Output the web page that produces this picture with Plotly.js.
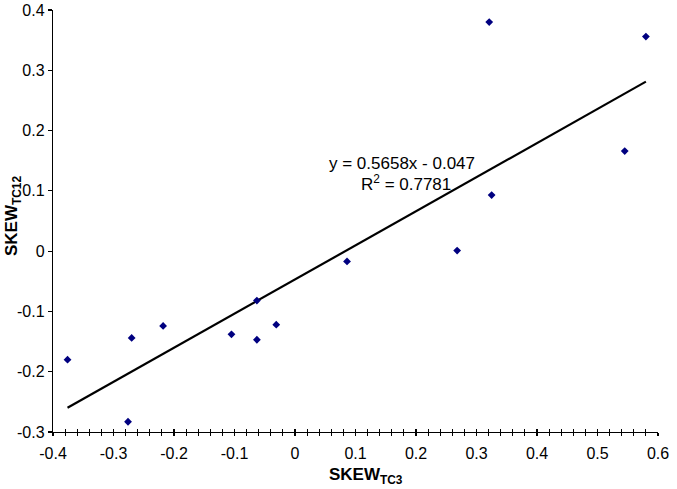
<!DOCTYPE html>
<html>
<head>
<meta charset="utf-8">
<script src="https://cdn.plot.ly/plotly-3.0.1.min.js"></script>
<style>html,body{margin:0;padding:0;background:#fff;}#chart{width:677px;height:489px;}</style>
</head>
<body>
<div id="chart"></div>
<script>
// Data
var skewTC3  = [-0.376, -0.276, -0.270, -0.218, -0.105, -0.063, -0.063, -0.031, 0.086, 0.268, 0.321, 0.580, 0.545, 0.325];
var skewTC12 = [-0.180, -0.283, -0.144, -0.124, -0.138, -0.082, -0.147, -0.122, -0.017, 0.001, 0.380, 0.356, 0.166, 0.093];
var trendSlope = 0.5658;
var trendIntercept = -0.047;
var rSquared = 0.7781;
var xTickVals = [-0.4, -0.3, -0.2, -0.1, 0, 0.1, 0.2, 0.3, 0.4, 0.5, 0.6];
var xTickText = ['-0.4', '-0.3', '-0.2', '-0.1', '0', '0.1', '0.2', '0.3', '0.4', '0.5', '0.6'];
var yTickVals = [-0.3, -0.2, -0.1, 0, 0.1, 0.2, 0.3, 0.4];
var yTickText = ['-0.3', '-0.2', '-0.1', '0', '0.1', '0.2', '0.3', '0.4'];

var xMin = Math.min.apply(null, skewTC3);
var xMax = Math.max.apply(null, skewTC3);
var trendX = [xMin, xMax];
var trendY = trendX.map(function (v) { return trendSlope * v + trendIntercept; });

var FONT = 'Liberation Sans, Arial, sans-serif';

var traces = [
  {
    x: trendX, y: trendY, type: 'scatter', mode: 'lines',
    line: {color: '#000000', width: 2.2},
    hoverinfo: 'skip', showlegend: false
  },
  {
    x: skewTC3, y: skewTC12, type: 'scatter', mode: 'markers',
    marker: {symbol: 'diamond', size: 6, color: '#000080', line: {width: 0}},
    showlegend: false
  },
  {
    x: [0], y: [0], xaxis: 'x2', type: 'scatter', mode: 'markers',
    marker: {opacity: 0}, hoverinfo: 'skip', showlegend: false
  }
];

var layout = {
  width: 677, height: 489,
  margin: {l: 53, r: 19, t: 10, b: 57},
  paper_bgcolor: '#ffffff', plot_bgcolor: '#ffffff',
  font: {family: FONT, size: 16, color: '#000000'},
  showlegend: false,
  xaxis: {
    range: [-0.4, 0.6], tickmode: 'array', tickvals: xTickVals, ticktext: xTickText,
    showgrid: false, zeroline: false, showline: true, linecolor: '#000000', linewidth: 1.2,
    ticks: 'outside', ticklen: 3, tickwidth: 1.2, tickcolor: '#000000',
    minor: {dtick: 0.02, ticks: 'outside', ticklen: 3, tickwidth: 1, tickcolor: '#000000', showgrid: false},
    tickfont: {family: FONT, size: 16, color: '#000000'},
    ticklabelstandoff: 4,
    anchor: 'y'
  },
  xaxis2: {
    range: [-0.4, 0.6], overlaying: 'x', anchor: 'y', side: 'bottom',
    tickmode: 'array', tickvals: xTickVals, showticklabels: false,
    showgrid: false, zeroline: false, showline: false,
    ticks: 'inside', ticklen: 3, tickwidth: 1.2, tickcolor: '#000000',
    minor: {dtick: 0.02, ticks: 'inside', ticklen: 3, tickwidth: 1, tickcolor: '#000000', showgrid: false}
  },
  yaxis: {
    range: [-0.3, 0.4], tickmode: 'array', tickvals: yTickVals, ticktext: yTickText,
    showgrid: false, zeroline: false, showline: true, linecolor: '#000000', linewidth: 1.2,
    ticks: 'outside', ticklen: 4, tickwidth: 1.2, tickcolor: '#000000',
    tickfont: {family: FONT, size: 16, color: '#000000'}
  },
  annotations: [
    {
      xref: 'paper', yref: 'paper', x: (366 - 53) / 605, y: -(476 - 432) / 422,
      xanchor: 'center', yanchor: 'middle', showarrow: false,
      text: '<b>SKEW<sub>TC3</sub></b>', font: {family: FONT, size: 17, color: '#000000'}
    },
    {
      xref: 'paper', yref: 'paper', x: -(53 - 13) / 605, y: (432 - 216) / 422,
      xanchor: 'center', yanchor: 'middle', showarrow: false, textangle: -90,
      text: '<b>SKEW<sub>TC12</sub></b>', font: {family: FONT, size: 17, color: '#000000'}
    },
    {
      xref: 'paper', yref: 'paper', x: (402 - 53) / 605, y: (432 - 163) / 422,
      xanchor: 'center', yanchor: 'middle', showarrow: false, borderpad: 0,
      text: 'y = ' + trendSlope + 'x - ' + Math.abs(trendIntercept),
      font: {family: FONT, size: 17, color: '#000000'}
    },
    {
      xref: 'paper', yref: 'paper', x: (406 - 53) / 605, y: (432 - 183) / 422,
      xanchor: 'center', yanchor: 'middle', showarrow: false, borderpad: 0,
      text: 'R<sup>2</sup> = ' + rSquared,
      font: {family: FONT, size: 17, color: '#000000'}
    }
  ]
};

Plotly.newPlot('chart', traces, layout, {staticPlot: true, displayModeBar: false});
</script>
</body>
</html>
